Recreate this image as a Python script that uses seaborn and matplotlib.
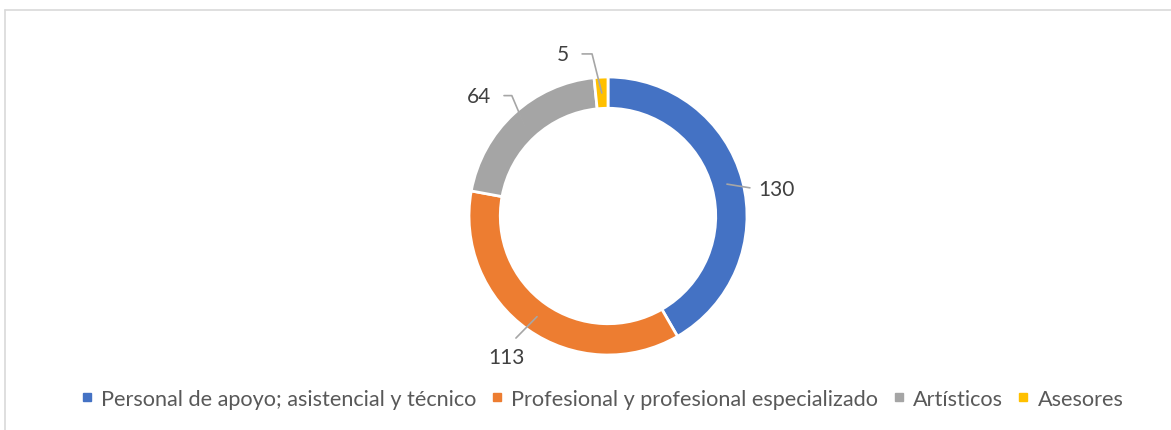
import numpy as np
import matplotlib
matplotlib.use("Agg")
import matplotlib.pyplot as plt
from matplotlib.lines import Line2D
import seaborn as sns

categorias = ["Personal de apoyo; asistencial y técnico",
              "Profesional y profesional especializado",
              "Artísticos",
              "Asesores"]
valores = [130, 113, 64, 5]

sns.set_theme(style="white")
plt.rcParams['font.family'] = ['Lato', 'DejaVu Sans']

colores = sns.color_palette(["#4472C4", "#ED7D31", "#A5A5A5", "#FFC000"])

W, H = 1171, 431
cx, cy, R = 608, 217, 139
f = plt.figure(figsize=(W/100, H/100), dpi=100)
ax = f.add_axes([0, 0, 1, 1])

wedges, _ = ax.pie(valores, colors=colores, startangle=90, counterclock=False,
                   radius=1, wedgeprops=dict(width=0.225, edgecolor='white', linewidth=2))
ax.set_aspect('auto')
ax.set_xlim(-cx/R, (W-cx)/R)
ax.set_ylim(-(H-cy)/R, cy/R)
ax.axis('off')

# etiquetas con lineas guia
total = sum(valores)
inicio = np.cumsum([0] + valores[:-1])
medio = 90 - (inicio + np.array(valores)/2)/total*360

# (angulo del texto, radio del texto, relpos, conexion, separacion)
estilo = [
    (9.0, 1.23, (0, 0.5), "arc3", 4),
    (-125.6, 1.25, (0.5, 1), "arc3", 6),
    (137.0, 1.27, (1, 0.5), "angle,angleA=0,angleB=113", 7),
    (105.5, 1.21, (1, 0.5), "angle,angleA=0,angleB=104", 7),
]
for v, th, (ang, rad, rp, cs, sh) in zip(valores, medio, estilo):
    t = np.deg2rad(th)
    xy = (0.886*np.cos(t), 0.886*np.sin(t))
    a = np.deg2rad(ang)
    xt = (rad*np.cos(a), rad*np.sin(a))
    ax.annotate(str(v), xy=xy, xytext=xt, ha='center', va='center',
                fontsize=15, color='#404040',
                arrowprops=dict(arrowstyle='-', color='#A6A6A6', lw=1.2,
                                connectionstyle=cs, relpos=rp,
                                shrinkA=sh, shrinkB=0))

handles = [Line2D([], [], ls='none', marker='s', markersize=6,
                  markerfacecolor=c, markeredgecolor=c) for c in colores]
f.legend(handles, categorias, loc='center', bbox_to_anchor=(601.5/W, 1-400/H),
         ncols=4, frameon=False, fontsize=15.6, labelcolor='#595959',
         handlelength=0.7, handletextpad=0.3, columnspacing=0.6)

# marco del grafico
f.add_artist(Line2D([5.5/W, 5.5/W], [0, 1-10.5/H], color='#D9D9D9', lw=1.2,
                    transform=f.transFigure))
f.add_artist(Line2D([5.5/W, 1], [1-10.5/H, 1-10.5/H], color='#D9D9D9', lw=1.2,
                    transform=f.transFigure))

f.savefig("out.png", dpi=100, facecolor='white')
